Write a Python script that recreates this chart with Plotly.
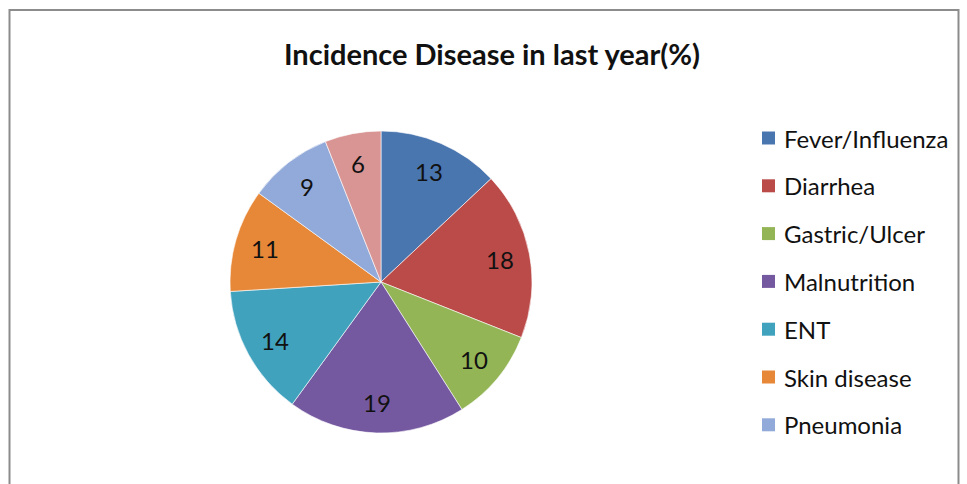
import math
import plotly.graph_objects as go

# Incidence of disease in the last year, percent of respondents
categories = ["Fever/Influenza", "Diarrhea", "Gastric/Ulcer", "Malnutrition",
              "ENT", "Skin disease", "Pneumonia", "Others"]
values = [13, 18, 10, 19, 14, 11, 9, 6]
colors = ["#4A76B0", "#BB4B49", "#93B556", "#7559A0",
          "#41A2BE", "#E78838", "#92AAD9", "#D99594"]
# entries that fit in the legend box
legend_count = 7

W, H = 967, 484
CX, CY, R = 381, 282, 151          # pie centre and radius, px
LABEL_R = 0.80                     # data labels sit at this fraction of the radius
FONT = "Lato, Open Sans, sans-serif"

fig = go.Figure()
fig.add_trace(go.Pie(
    labels=categories,
    values=values,
    sort=False,
    direction="clockwise",
    rotation=0,
    marker=dict(colors=colors, line=dict(color="rgba(255,255,255,0.6)", width=1)),
    textinfo="none",
    domain=dict(x=[(CX - R) / W, (CX + R) / W],
                y=[(H - CY - R) / H, (H - CY + R) / H]),
    showlegend=False,
    hoverinfo="label+value",
))

shapes = [
    # chart-area frame (bottom edge runs past the page)
    dict(type="rect", xref="paper", yref="paper",
         x0=9.5 / W, x1=958.5 / W, y0=-0.1, y1=1 - 10 / H,
         line=dict(color="#8C8C8C", width=2), fillcolor="rgba(0,0,0,0)"),
]
annotations = []

# value labels placed along each slice's mid-angle
total = sum(values)
cum = 0
for v in values:
    mid = (cum + v / 2) / total * 2 * math.pi   # clockwise from 12 o'clock
    cum += v
    px = CX + LABEL_R * R * math.sin(mid)
    py = CY - LABEL_R * R * math.cos(mid)
    annotations.append(dict(xref="paper", yref="paper", x=px / W, y=1 - py / H,
                            xanchor="center", yanchor="middle", showarrow=False,
                            text=str(v),
                            font=dict(family=FONT, size=24, color="#111111")))

# legend: colour swatch and label for each entry
row_top, row_step = 138, 47.8
for i in range(legend_count):
    yc = row_top + i * row_step
    shapes.append(dict(type="rect", xref="paper", yref="paper",
                       x0=762 / W, x1=775 / W,
                       y0=1 - (yc + 6.5) / H, y1=1 - (yc - 6.5) / H,
                       fillcolor=colors[i], line=dict(width=0)))
    annotations.append(dict(xref="paper", yref="paper", x=782 / W, y=1 - yc / H,
                            xanchor="left", yanchor="middle", showarrow=False,
                            text=categories[i],
                            font=dict(family=FONT, size=24, color="#111111")))

fig.update_layout(
    width=W, height=H,
    margin=dict(l=0, r=0, t=0, b=0),
    paper_bgcolor="white",
    plot_bgcolor="white",
    title=dict(text="<b>Incidence Disease in last year(%)</b>",
               x=492 / W, xanchor="center", y=1 - 55 / H, yanchor="middle",
               font=dict(family=FONT, size=29, color="#111111")),
    shapes=shapes,
    annotations=annotations,
)

fig.write_html("out.html")
